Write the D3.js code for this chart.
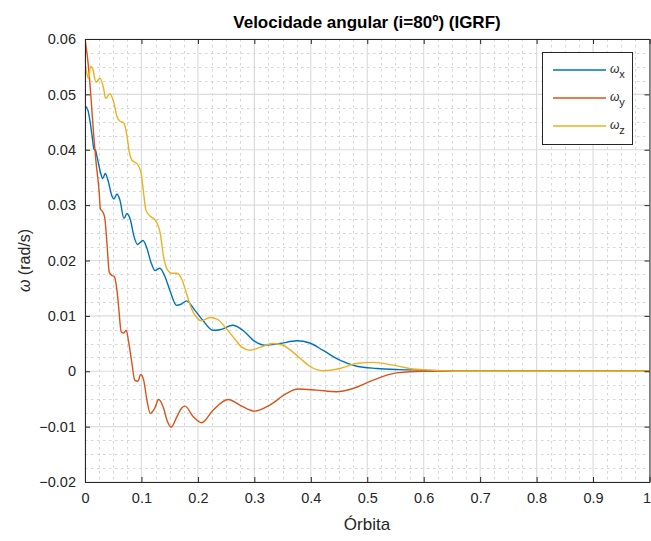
<!DOCTYPE html>
<html>
<head>
<meta charset="utf-8">
<script src="https://cdn.jsdelivr.net/npm/d3@7"></script>
<style>
  html, body { margin: 0; padding: 0; background: #ffffff; }
  svg { display: block; font-family: "Liberation Sans", Arial, Helvetica, sans-serif; }
</style>
</head>
<body>
<svg id="chart" width="651" height="541"></svg>
<script>
// Angular velocity components over one orbit, [orbit fraction, rad/s]
const omegaX = [
  [0, 0.0480], [0.0053, 0.0471], [0.0094, 0.0448], [0.0124, 0.0426], [0.0159, 0.0401],
  [0.0186, 0.0399], [0.0212, 0.0388], [0.0265, 0.0363], [0.0313, 0.0348], [0.0359, 0.0357],
  [0.0407, 0.0345], [0.0478, 0.0316], [0.0513, 0.0311], [0.0566, 0.0320], [0.0619, 0.0309],
  [0.0690, 0.0276], [0.0743, 0.0285], [0.0805, 0.0273], [0.0867, 0.0244], [0.0929, 0.0229],
  [0.1027, 0.0236], [0.1097, 0.0222], [0.1168, 0.0197], [0.1239, 0.0182], [0.1327, 0.0186],
  [0.1416, 0.0171], [0.1504, 0.0146], [0.1623, 0.0119], [0.1699, 0.0121], [0.1800, 0.0127],
  [0.1947, 0.0110], [0.2088, 0.0092], [0.2265, 0.0074], [0.2389, 0.0075], [0.2619, 0.0083],
  [0.2796, 0.0074], [0.3009, 0.0054], [0.3186, 0.0047], [0.3451, 0.0050], [0.3752, 0.0055],
  [0.3982, 0.0051], [0.4212, 0.0038], [0.4513, 0.0020], [0.4814, 0.0009], [0.5168, 0.0005],
  [0.5575, 0.0003], [0.5982, 0.0002], [0.6460, 0.00003], [0.7345, 0], [1, 0]
];
const omegaY = [
  [0, 0.0601], [0.0065, 0.0546], [0.0112, 0.0486], [0.0154, 0.0426], [0.0195, 0.0378],
  [0.0253, 0.0321], [0.0271, 0.0294], [0.0313, 0.0288], [0.0349, 0.0278], [0.0389, 0.0231],
  [0.0430, 0.0179], [0.0478, 0.0173], [0.0519, 0.0171], [0.0566, 0.0146], [0.0596, 0.0116],
  [0.0642, 0.0071], [0.0685, 0.0069], [0.0731, 0.0074], [0.0773, 0.0053], [0.0832, 0.0014],
  [0.0880, -0.0016], [0.0938, -0.0018], [0.0986, -0.0006], [0.1039, -0.0016], [0.1097, -0.0052],
  [0.1156, -0.0076], [0.1234, -0.0067], [0.1304, -0.0051], [0.1393, -0.0067], [0.1451, -0.0088],
  [0.1527, -0.0101], [0.1628, -0.0082], [0.1717, -0.0066], [0.1770, -0.0063], [0.1917, -0.0082],
  [0.2065, -0.0093], [0.2271, -0.0070], [0.2536, -0.0051], [0.2743, -0.0061], [0.3009, -0.0072],
  [0.3274, -0.0061], [0.3570, -0.0040], [0.3770, -0.0032], [0.4101, -0.0034], [0.4455, -0.0037],
  [0.4749, -0.0031], [0.5103, -0.0016], [0.5517, -0.0003], [0.5980, 0], [1, 0]
];
const omegaZ = [
  [0, 0.0558], [0.0035, 0.0536], [0.0065, 0.0529], [0.0097, 0.0551], [0.0133, 0.0547],
  [0.0195, 0.0522], [0.0265, 0.0529], [0.0331, 0.0510], [0.0363, 0.0493], [0.0442, 0.0501],
  [0.0508, 0.0486], [0.0566, 0.0460], [0.0625, 0.0451], [0.0681, 0.0449], [0.0743, 0.0426],
  [0.0784, 0.0396], [0.0832, 0.0381], [0.0890, 0.0377], [0.0920, 0.0375], [0.0996, 0.0357],
  [0.1039, 0.0321], [0.1080, 0.0291], [0.1156, 0.0280], [0.1244, 0.0273], [0.1333, 0.0249],
  [0.1393, 0.0206], [0.1451, 0.0185], [0.1540, 0.0177], [0.1623, 0.0177], [0.1712, 0.0167],
  [0.1800, 0.0140], [0.1888, 0.0113], [0.1977, 0.0097], [0.2065, 0.0091], [0.2212, 0.0097],
  [0.2359, 0.0093], [0.2478, 0.0080], [0.2655, 0.0058], [0.2773, 0.0044], [0.2920, 0.0038],
  [0.3097, 0.0043], [0.3333, 0.0050], [0.3510, 0.0047], [0.3628, 0.0039], [0.3805, 0.0024],
  [0.3982, 0.0009], [0.4218, 0.0001], [0.4513, 0.0005], [0.4809, 0.0014], [0.5103, 0.0016],
  [0.5457, 0.0011], [0.5752, 0.0005], [0.6106, 0.0002], [0.6580, 0], [1, 0]
];

const seriesNames = ["x", "y", "z"];
const seriesColors = ["#0072BD", "#D95319", "#EDB120"];
const xTicks = [0, 0.1, 0.2, 0.3, 0.4, 0.5, 0.6, 0.7, 0.8, 0.9, 1];
const yTicks = [-0.02, -0.01, 0, 0.01, 0.02, 0.03, 0.04, 0.05, 0.06];
const titleText = "Velocidade angular (i=80º) (IGRF)";
const xLabelText = "Órbita";

const svg = d3.select("#chart");
const plotLeft = 85, plotRight = 649.5, plotTop = 39, plotBottom = 482;

const x = d3.scaleLinear().domain([0, 1]).range([plotLeft, plotRight]);
const y = d3.scaleLinear().domain([-0.02, 0.06]).range([plotBottom, plotTop]);

const axisColor = "#262626";
const textColor = "#262626";

// minor grid (dashed)
const xMinor = d3.range(0, 1.0001, 0.025).filter(v => Math.abs(v * 10 - Math.round(v * 10)) > 1e-6);
const yMinor = d3.range(-0.02, 0.06001, 0.0025).filter(v => Math.abs(v * 100 - Math.round(v * 100)) > 1e-6);
const grid = svg.append("g");
grid.selectAll(".xm").data(xMinor).enter().append("line")
  .attr("x1", d => Math.round(x(d)) + 0.5).attr("x2", d => Math.round(x(d)) + 0.5)
  .attr("y1", plotTop).attr("y2", plotBottom)
  .attr("stroke", "#d6d6d6").attr("stroke-width", 1).attr("stroke-dasharray", "2.5,3.5");
grid.selectAll(".ym").data(yMinor).enter().append("line")
  .attr("y1", d => Math.round(y(d)) + 0.5).attr("y2", d => Math.round(y(d)) + 0.5)
  .attr("x1", plotLeft).attr("x2", plotRight)
  .attr("stroke", "#d6d6d6").attr("stroke-width", 1).attr("stroke-dasharray", "2.5,3.5");

// major grid
grid.selectAll(".xg").data(xTicks).enter().append("line")
  .attr("x1", d => x(d)).attr("x2", d => x(d))
  .attr("y1", plotTop).attr("y2", plotBottom)
  .attr("stroke", "#dcdcdc").attr("stroke-width", 1.2);
grid.selectAll(".yg").data(yTicks).enter().append("line")
  .attr("y1", d => y(d)).attr("y2", d => y(d))
  .attr("x1", plotLeft).attr("x2", plotRight)
  .attr("stroke", "#dcdcdc").attr("stroke-width", 1.2);

// clip for the data
svg.append("clipPath").attr("id", "plotClip").append("rect")
  .attr("x", plotLeft).attr("y", plotTop).attr("width", plotRight - plotLeft).attr("height", plotBottom - plotTop);

const line = d3.line()
  .x(d => x(d[0])).y(d => y(d[1]))
  .curve(d3.curveMonotoneX);

const plot = svg.append("g").attr("clip-path", "url(#plotClip)");
[omegaX, omegaY, omegaZ].forEach((s, i) => {
  plot.append("path").datum(s)
    .attr("d", line)
    .attr("fill", "none")
    .attr("stroke", seriesColors[i])
    .attr("stroke-width", 1.4)
    .attr("stroke-linejoin", "round");
});

// axes with inward ticks
const tickLen = 5;
const xAxisB = d3.axisBottom(x).tickValues(xTicks).tickSizeInner(-tickLen).tickSizeOuter(0)
  .tickPadding(11).tickFormat(d3.format("~g"));
const xAxisT = d3.axisTop(x).tickValues(xTicks).tickSizeInner(-tickLen).tickSizeOuter(0).tickFormat("");
const yAxisL = d3.axisLeft(y).tickValues(yTicks).tickSizeInner(-tickLen).tickSizeOuter(0)
  .tickPadding(9).tickFormat(d3.format("~g"));
const yAxisR = d3.axisRight(y).tickValues(yTicks).tickSizeInner(-tickLen).tickSizeOuter(0).tickFormat("");

function styleAxis(g) {
  g.select(".domain").attr("stroke", axisColor).attr("stroke-width", 1);
  g.selectAll(".tick line").attr("stroke", axisColor).attr("stroke-width", 1);
  g.selectAll(".tick text").attr("fill", textColor).attr("font-size", "14.5px")
    .attr("font-family", "'Liberation Sans', Arial, sans-serif");
}
const xAxisG = svg.append("g").attr("transform", `translate(0,${plotBottom})`).call(xAxisB).call(styleAxis);
// keep the last tick label inside the canvas
xAxisG.selectAll(".tick text").filter(d => d === 1).attr("text-anchor", "end").attr("dx", "1");
svg.append("g").attr("transform", `translate(0,${plotTop})`).call(xAxisT).call(styleAxis);
svg.append("g").attr("transform", `translate(${plotLeft},0)`).call(yAxisL).call(styleAxis);
svg.append("g").attr("transform", `translate(${plotRight},0)`).call(yAxisR).call(styleAxis);

// title and axis labels
svg.append("text")
  .attr("x", 367).attr("y", 28)
  .attr("text-anchor", "middle")
  .attr("font-size", "17px").attr("font-weight", "bold").attr("fill", "#000")
  .text(titleText);

svg.append("text")
  .attr("x", 367).attr("y", 530)
  .attr("text-anchor", "middle")
  .attr("font-size", "17px").attr("fill", textColor)
  .text(xLabelText);

const yLab = svg.append("text")
  .attr("transform", `translate(30,${(plotTop + plotBottom) / 2}) rotate(-90)`)
  .attr("text-anchor", "middle")
  .attr("font-size", "16px").attr("fill", textColor);
yLab.append("tspan").attr("font-style", "italic").text("ω");
yLab.append("tspan").text(" (rad/s)");

// legend
const lg = svg.append("g");
const lgX = 542, lgY = 52, lgW = 90, lgH = 92;
lg.append("rect").attr("x", lgX + 0.5).attr("y", lgY + 0.5).attr("width", lgW).attr("height", lgH)
  .attr("fill", "#ffffff").attr("stroke", axisColor).attr("stroke-width", 1);
seriesNames.forEach((n, i) => {
  const cy = lgY + 18 + i * 28;
  lg.append("line").attr("x1", lgX + 11).attr("x2", lgX + 64)
    .attr("y1", cy).attr("y2", cy)
    .attr("stroke", seriesColors[i]).attr("stroke-width", 1.4);
  const t = lg.append("text").attr("x", lgX + 68).attr("y", cy + 3)
    .attr("font-size", "12px").attr("fill", textColor);
  t.append("tspan").attr("font-style", "italic").text("ω");
  t.append("tspan").attr("dy", 5).attr("font-size", "11px").text(n);
});
</script>
</body>
</html>
